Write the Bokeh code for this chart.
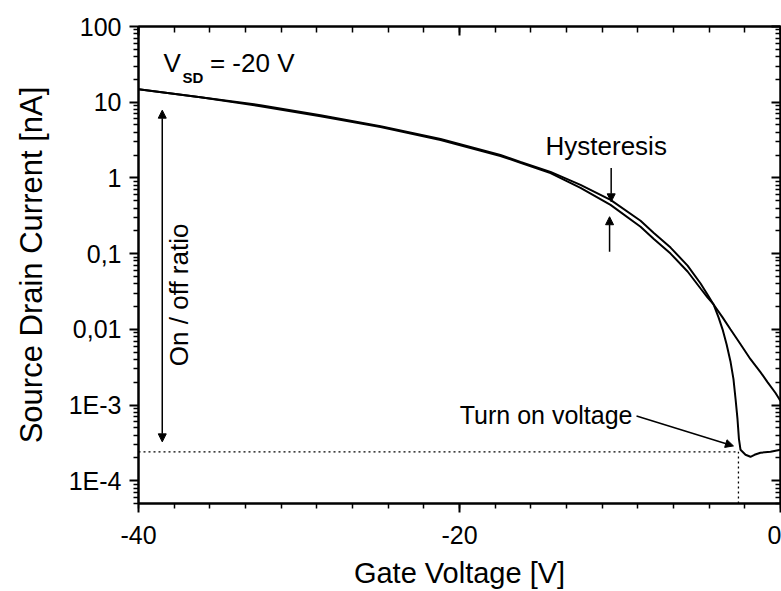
import numpy as np
from bokeh.plotting import figure
from bokeh.models import (Range1d, LinearAxis, LogAxis, FixedTicker, Arrow,
                          NormalHead, Label, CustomLabelingPolicy)
from bokeh.embed import file_html
from bokeh.resources import INLINE

# ---------------- data ----------------
# sweep A (upper in the hysteresis region, sharp turn-on); V in volts, I in nA
sweep_a_v = [-40.0, -36.14, -32.40, -28.66, -24.92, -21.18, -17.45, -16.20, -14.33,
             -12.46, -10.59, -8.72, -7.91, -6.85, -5.79, -4.98, -4.55, -4.17,
             -3.86, -3.61, -3.36, -3.12, -2.93, -2.80, -2.68, -2.59, -2.49,
             -2.18, -1.87, -1.62, -1.25, -0.62, 0.0]
sweep_a_i = [14.83, 11.64, 9.13, 6.74, 4.83, 3.26, 2.01, 1.62, 1.20,
             0.809, 0.513, 0.272, 0.189, 0.120, 0.0695, 0.0403, 0.0289, 0.0213,
             0.01438, 0.0100, 6.35e-3, 3.79e-3, 2.20e-3, 1.20e-3, 6.54e-4, 3.57e-4, 2.56e-4,
             2.20e-4, 2.07e-4, 2.20e-4, 2.34e-4, 2.41e-4, 2.56e-4]

# sweep B (lower in the hysteresis region, smooth)
sweep_b_v = [-40.0, -36.14, -32.40, -28.66, -24.92, -21.18, -17.45, -16.20, -14.33,
             -12.46, -10.59, -8.72, -7.91, -6.85, -5.79, -4.98, -4.55, -4.17,
             -3.61, -3.12, -2.49, -1.87, -1.25, -0.81, -0.31, 0.0]
sweep_b_i = [14.83, 11.60, 8.86, 6.54, 4.69, 3.16, 1.95, 1.58, 1.16,
             0.739, 0.441, 0.2265, 0.1576, 0.100, 0.0580, 0.0346, 0.0264, 0.0213,
             0.01438, 0.0100, 6.35e-3, 4.03e-3, 2.72e-3, 2.01e-3, 1.44e-3, 1.13e-3]

off_current = 2.41e-4
turn_on_voltage = -2.62

x_major = [-40, -20, 0]
x_labels = ["-40", "-20", "0"]
y_major = [1e-4, 1e-3, 0.01, 0.1, 1, 10, 100]
y_labels = ["1E-4", "1E-3", "0,01", "0,1", "1", "10", "100"]

x_min, x_max = -40, 0
y_min, y_max = 5e-5, 100

# ---------------- figure ----------------
FONT = "Liberation Sans"

p = figure(width=781, height=591, x_range=Range1d(x_min, x_max),
           y_range=Range1d(y_min, y_max), y_axis_type="log",
           output_backend="svg", toolbar_location=None,
           min_border_left=138, min_border_right=1,
           min_border_top=26, min_border_bottom=86)
p.grid.visible = False
p.outline_line_color = "black"
p.outline_line_width = 2
p.background_fill_color = "white"
p.border_fill_color = "white"

x_minor = list(np.linspace(x_min, x_max, 19))
y_minor = [m * 10.0 ** e for e in range(-5, 3) for m in range(2, 10)]
y_minor = [t for t in y_minor if y_min <= t <= y_max]


def style(ax):
    ax.axis_line_width = 2
    ax.axis_line_color = "black"
    ax.major_tick_line_width = 2
    ax.minor_tick_line_width = 1.5
    ax.major_tick_line_color = "black"
    ax.minor_tick_line_color = "black"


def hide_labels(ax):
    ax.major_label_text_font_size = "1px"
    ax.major_label_text_alpha = 0
    ax.major_label_standoff = 0
    ax.major_label_policy = CustomLabelingPolicy(
        code="for (const i of indices) { indices.unset(i) }\nreturn indices")


xa = p.xaxis[0]
xa.ticker = FixedTicker(ticks=x_major, minor_ticks=x_minor)
style(xa)
xa.major_tick_out = 9
xa.major_tick_in = 0
xa.minor_tick_out = 5
xa.minor_tick_in = 0
xa.major_label_overrides = {t: s for t, s in zip(x_major, x_labels)}
xa.major_label_text_font = FONT
xa.major_label_text_font_size = "25px"
xa.major_label_text_color = "black"
xa.major_label_standoff = 13
xa.axis_label = "Gate Voltage [V]"
xa.axis_label_text_font = FONT
xa.axis_label_text_font_size = "29px"
xa.axis_label_text_font_style = "normal"
xa.axis_label_text_color = "black"
xa.axis_label_standoff = 10

ya = p.yaxis[0]
ya.ticker = FixedTicker(ticks=y_major, minor_ticks=y_minor)
style(ya)
ya.major_tick_out = 9
ya.major_tick_in = 0
ya.minor_tick_out = 5
ya.minor_tick_in = 0
ya.major_label_overrides = {t: s for t, s in zip(y_major, y_labels)}
ya.major_label_text_font = FONT
ya.major_label_text_font_size = "25px"
ya.major_label_text_color = "black"
ya.major_label_standoff = 8
ya.axis_label = "Source Drain Current [nA]"
ya.axis_label_text_font = FONT
ya.axis_label_text_font_size = "31px"
ya.axis_label_text_font_style = "normal"
ya.axis_label_text_color = "black"
ya.axis_label_standoff = 17

top = LinearAxis(ticker=FixedTicker(ticks=x_major, minor_ticks=x_minor))
style(top)
top.major_tick_in = 9
top.major_tick_out = 0
top.minor_tick_in = 6
top.minor_tick_out = 0
hide_labels(top)
p.add_layout(top, "above")

right = LogAxis(ticker=FixedTicker(ticks=y_major, minor_ticks=y_minor))
style(right)
right.major_tick_in = 9
right.major_tick_out = 0
right.minor_tick_in = 5
right.minor_tick_out = 0
hide_labels(right)
p.add_layout(right, "right")

# ---------------- curves ----------------
p.line(sweep_a_v, sweep_a_i, line_color="black", line_width=2)
p.line(sweep_b_v, sweep_b_i, line_color="black", line_width=2)

# dotted guide lines
p.line([x_min, turn_on_voltage], [off_current, off_current], line_color="black",
       line_width=1.3, line_dash="2 3")
p.line([turn_on_voltage, turn_on_voltage], [y_min, off_current], line_color="black",
       line_width=1.3, line_dash="2 3")

# ---------------- annotations ----------------
def head():
    return NormalHead(size=8, fill_color="black", line_color="black", line_width=1)


# on/off ratio double arrow
p.add_layout(Arrow(x_start=-38.52, y_start=3.26e-4, x_end=-38.52, y_end=7.85,
                   start=head(), end=head(), line_width=1.5, line_color="black"))
# hysteresis arrows
p.add_layout(Arrow(x_start=-10.55, y_start=1.355, x_end=-10.55, y_end=0.483,
                   end=head(), line_width=1.5, line_color="black"))
p.add_layout(Arrow(x_start=-10.65, y_start=0.106, x_end=-10.65, y_end=0.307,
                   end=head(), line_width=1.5, line_color="black"))
# turn on voltage arrow
p.add_layout(Arrow(x_start=-8.97, y_start=7.16e-4, x_end=-2.93, y_end=2.88e-4,
                   end=head(), line_width=1.5, line_color="black"))


def label(x, y, text, size=26, **kw):
    lab = Label(x=x, y=y, text=text, text_font=FONT, text_font_size=f"{size}px",
                text_color="black", text_baseline="middle", **kw)
    p.add_layout(lab)


label(-38.44, 32.9, "V")
label(-37.26, 20.9, "SD", size=15, text_font_style="bold")
label(-35.55, 32.9, "= -20 V")
label(-14.64, 2.66, "Hysteresis")
label(-9.22, 7.38e-4, "Turn on voltage", size=25, text_align="right")
label(-37.46, 3.26e-3, "On / off ratio", angle=float(np.pi / 2), text_align="left")

open("out.html", "w").write(file_html(p, INLINE))
